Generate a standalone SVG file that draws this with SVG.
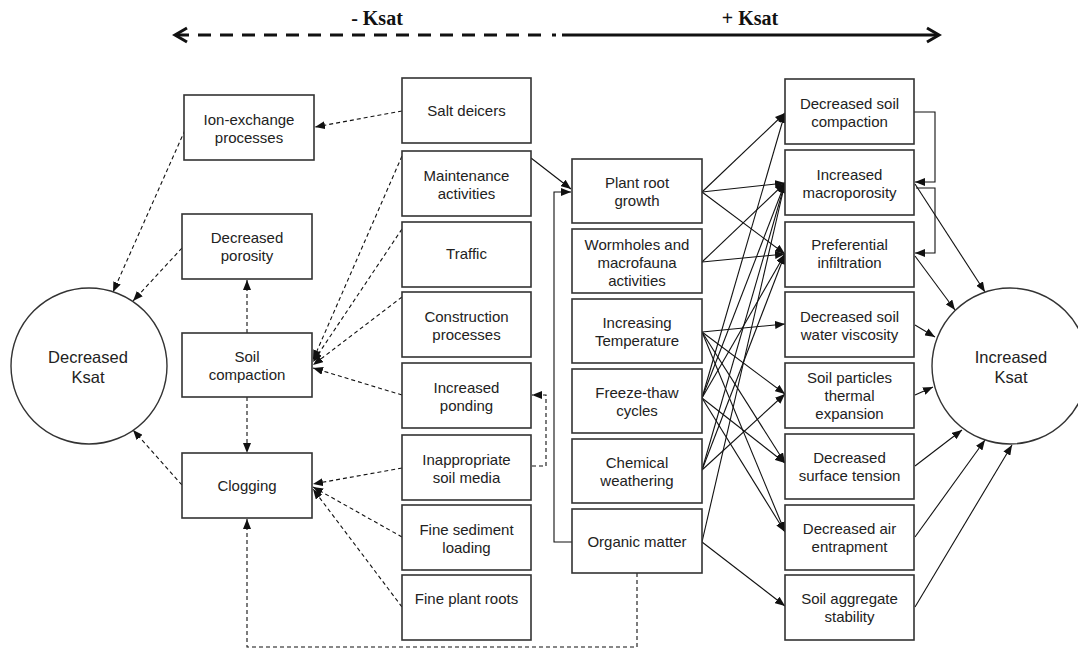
<svg xmlns="http://www.w3.org/2000/svg" width="1078" height="651" viewBox="0 0 1078 651">
<style>
.box{fill:#fff;stroke:#333;stroke-width:1.6}
.circ{fill:#fff;stroke:#333;stroke-width:1.4}
.t{font-family:"Liberation Sans",Arial,sans-serif;font-size:15px;fill:#222;text-anchor:middle}
.tc{font-family:"Liberation Sans",Arial,sans-serif;font-size:16.5px;fill:#222;text-anchor:middle}
.h{font-family:"Liberation Serif","Times New Roman",serif;font-size:20px;font-weight:bold;fill:#111;text-anchor:middle}
.s{fill:none;stroke:#111;stroke-width:1.1}
.d{fill:none;stroke:#111;stroke-width:1.1;stroke-dasharray:4,3}
</style>
<defs>
<marker id="ah" markerUnits="userSpaceOnUse" markerWidth="10" markerHeight="8" refX="10" refY="4" orient="auto" viewBox="0 0 10 8"><path d="M0,0 L10,4 L0,8 z" fill="#111"/></marker>
</defs>
<rect width="1078" height="651" fill="#fff"/>

<g id="header">
<text class="h" x="377" y="25">- Ksat</text>
<text class="h" x="750" y="25">+ Ksat</text>
<line x1="176" y1="35" x2="550" y2="35" stroke="#111" stroke-width="3" stroke-dasharray="13,9"/>
<line x1="552" y1="35" x2="556" y2="35" stroke="#111" stroke-width="3"/>
<line x1="562" y1="35" x2="938" y2="35" stroke="#111" stroke-width="3"/>
<polyline points="187,28 175,35 187,42" fill="none" stroke="#111" stroke-width="3"/>
<polyline points="927,28 939,35 927,42" fill="none" stroke="#111" stroke-width="3"/>
</g>

<g id="connectors">
<!-- left dashed -->
<line class="d" x1="402" y1="111" x2="315" y2="127" marker-end="url(#ah)"/>
<line class="d" x1="185" y1="130" x2="113" y2="292" marker-end="url(#ah)"/>
<line class="d" x1="182" y1="248" x2="133" y2="301" marker-end="url(#ah)"/>
<line class="d" x1="247" y1="333" x2="247" y2="280" marker-end="url(#ah)"/>
<line class="d" x1="247" y1="397" x2="247" y2="453" marker-end="url(#ah)"/>
<line class="d" x1="182" y1="485" x2="133" y2="430" marker-end="url(#ah)"/>
<line class="d" x1="402" y1="156" x2="313" y2="360" marker-end="url(#ah)"/>
<line class="d" x1="402" y1="229" x2="313" y2="362" marker-end="url(#ah)"/>
<line class="d" x1="402" y1="297" x2="313" y2="365" marker-end="url(#ah)"/>
<line class="d" x1="402" y1="395" x2="313" y2="368" marker-end="url(#ah)"/>
<line class="d" x1="402" y1="468" x2="313" y2="484" marker-end="url(#ah)"/>
<line class="d" x1="402" y1="537" x2="313" y2="487" marker-end="url(#ah)"/>
<line class="d" x1="402" y1="607" x2="313" y2="489" marker-end="url(#ah)"/>
<polyline class="d" points="532,466 546,466 546,395 532,395" marker-end="url(#ah)"/>
<polyline class="d" points="637,573 637,647 247,647 247,519" marker-end="url(#ah)"/>
<!-- solid into plant root growth -->
<line class="s" x1="531" y1="158" x2="571" y2="189" marker-end="url(#ah)"/>
<polyline class="s" points="572,542 554,542 554,192 571,192" marker-end="url(#ah)"/>
<!-- middle to right -->
<line class="s" x1="702" y1="192" x2="785" y2="113" marker-end="url(#ah)"/>
<line class="s" x1="702" y1="192" x2="785" y2="183" marker-end="url(#ah)"/>
<line class="s" x1="702" y1="192" x2="785" y2="254" marker-end="url(#ah)"/>
<line class="s" x1="702" y1="262" x2="785" y2="183" marker-end="url(#ah)"/>
<line class="s" x1="702" y1="262" x2="785" y2="254" marker-end="url(#ah)"/>
<line class="s" x1="702" y1="332" x2="785" y2="324" marker-end="url(#ah)"/>
<line class="s" x1="702" y1="332" x2="785" y2="394" marker-end="url(#ah)"/>
<line class="s" x1="702" y1="332" x2="785" y2="463" marker-end="url(#ah)"/>
<line class="s" x1="702" y1="332" x2="785" y2="532" marker-end="url(#ah)"/>
<line class="s" x1="702" y1="398" x2="785" y2="113" marker-end="url(#ah)"/>
<line class="s" x1="702" y1="398" x2="785" y2="183" marker-end="url(#ah)"/>
<line class="s" x1="702" y1="398" x2="785" y2="254" marker-end="url(#ah)"/>
<line class="s" x1="702" y1="398" x2="785" y2="463" marker-end="url(#ah)"/>
<line class="s" x1="702" y1="398" x2="785" y2="532" marker-end="url(#ah)"/>
<line class="s" x1="702" y1="470" x2="785" y2="183" marker-end="url(#ah)"/>
<line class="s" x1="702" y1="470" x2="785" y2="254" marker-end="url(#ah)"/>
<line class="s" x1="702" y1="470" x2="785" y2="394" marker-end="url(#ah)"/>
<line class="s" x1="702" y1="542" x2="785" y2="183" marker-end="url(#ah)"/>
<line class="s" x1="702" y1="542" x2="785" y2="606" marker-end="url(#ah)"/>
<!-- right elbows -->
<polyline class="s" points="914,112 935,112 935,182 915,182" marker-end="url(#ah)"/>
<polyline class="s" points="916,188 935,188 935,253 915,253" marker-end="url(#ah)"/>
<!-- right to circle -->
<line class="s" x1="915" y1="184" x2="985" y2="292" marker-end="url(#ah)"/>
<line class="s" x1="915" y1="256" x2="955" y2="310" marker-end="url(#ah)"/>
<line class="s" x1="915" y1="325" x2="935" y2="337" marker-end="url(#ah)"/>
<line class="s" x1="915" y1="395" x2="933" y2="387" marker-end="url(#ah)"/>
<line class="s" x1="915" y1="466" x2="962" y2="430" marker-end="url(#ah)"/>
<line class="s" x1="915" y1="537" x2="985" y2="440" marker-end="url(#ah)"/>
<line class="s" x1="915" y1="607" x2="1012" y2="445" marker-end="url(#ah)"/>
</g>

<g id="decreased-ksat"><circle class="circ" cx="89" cy="366" r="78"/><text class="tc" x="88" y="363">Decreased</text><text class="tc" x="88" y="383">Ksat</text></g>
<g id="increased-ksat"><circle class="circ" cx="1010" cy="366" r="78"/><text class="tc" x="1011" y="363">Increased</text><text class="tc" x="1011" y="383">Ksat</text></g>

<g id="ion-exchange"><rect class="box" x="184" y="95" width="130" height="65"/><text class="t" x="249" y="125">Ion-exchange</text><text class="t" x="249" y="143">processes</text></g>
<g id="decreased-porosity"><rect class="box" x="182" y="214" width="130" height="65"/><text class="t" x="247" y="243">Decreased</text><text class="t" x="247" y="261">porosity</text></g>
<g id="soil-compaction"><rect class="box" x="182" y="333" width="130" height="64"/><text class="t" x="247" y="362">Soil</text><text class="t" x="247" y="380">compaction</text></g>
<g id="clogging"><rect class="box" x="182" y="453" width="130" height="65"/><text class="t" x="247" y="491">Clogging</text></g>

<g id="salt-deicers"><rect class="box" x="402" y="78" width="129" height="65"/><text class="t" x="466.5" y="116">Salt deicers</text></g>
<g id="maintenance"><rect class="box" x="402" y="151" width="129" height="65"/><text class="t" x="466.5" y="181">Maintenance</text><text class="t" x="466.5" y="199">activities</text></g>
<g id="traffic"><rect class="box" x="402" y="222" width="129" height="65"/><text class="t" x="466.5" y="259">Traffic</text></g>
<g id="construction"><rect class="box" x="402" y="292" width="129" height="65"/><text class="t" x="466.5" y="322">Construction</text><text class="t" x="466.5" y="340">processes</text></g>
<g id="ponding"><rect class="box" x="402" y="363" width="129" height="65"/><text class="t" x="466.5" y="393">Increased</text><text class="t" x="466.5" y="411">ponding</text></g>
<g id="soil-media"><rect class="box" x="402" y="435" width="129" height="65"/><text class="t" x="466.5" y="465">Inappropriate</text><text class="t" x="466.5" y="483">soil media</text></g>
<g id="sediment"><rect class="box" x="402" y="505" width="129" height="65"/><text class="t" x="466.5" y="535">Fine sediment</text><text class="t" x="466.5" y="553">loading</text></g>
<g id="fine-roots"><rect class="box" x="402" y="575" width="129" height="65"/><text class="t" x="466.5" y="604">Fine plant roots</text></g>

<g id="plant-root"><rect class="box" x="572" y="159" width="130" height="64"/><text class="t" x="637" y="188">Plant root</text><text class="t" x="637" y="206">growth</text></g>
<g id="wormholes"><rect class="box" x="572" y="229" width="130" height="64"/><text class="t" x="637" y="250">Wormholes and</text><text class="t" x="637" y="268">macrofauna</text><text class="t" x="637" y="286">activities</text></g>
<g id="temperature"><rect class="box" x="572" y="299" width="130" height="64"/><text class="t" x="637" y="328">Increasing</text><text class="t" x="637" y="346">Temperature</text></g>
<g id="freeze-thaw"><rect class="box" x="572" y="369" width="130" height="64"/><text class="t" x="637" y="398">Freeze-thaw</text><text class="t" x="637" y="416">cycles</text></g>
<g id="chemical"><rect class="box" x="572" y="439" width="130" height="64"/><text class="t" x="637" y="468">Chemical</text><text class="t" x="637" y="486">weathering</text></g>
<g id="organic"><rect class="box" x="572" y="509" width="130" height="64"/><text class="t" x="637" y="547">Organic matter</text></g>

<g id="dec-soil-compaction"><rect class="box" x="785" y="79" width="129" height="65"/><text class="t" x="849.5" y="109">Decreased soil</text><text class="t" x="849.5" y="127">compaction</text></g>
<g id="macroporosity"><rect class="box" x="785" y="150" width="129" height="65"/><text class="t" x="849.5" y="180">Increased</text><text class="t" x="849.5" y="198">macroporosity</text></g>
<g id="preferential"><rect class="box" x="785" y="222" width="129" height="65"/><text class="t" x="849.5" y="250">Preferential</text><text class="t" x="849.5" y="268">infiltration</text></g>
<g id="viscosity"><rect class="box" x="785" y="292" width="129" height="65"/><text class="t" x="849.5" y="322">Decreased soil</text><text class="t" x="849.5" y="340">water viscosity</text></g>
<g id="thermal"><rect class="box" x="785" y="363" width="129" height="65"/><text class="t" x="849.5" y="383">Soil particles</text><text class="t" x="849.5" y="401">thermal</text><text class="t" x="849.5" y="419">expansion</text></g>
<g id="surface-tension"><rect class="box" x="785" y="434" width="129" height="65"/><text class="t" x="849.5" y="463">Decreased</text><text class="t" x="849.5" y="481">surface tension</text></g>
<g id="air-entrapment"><rect class="box" x="785" y="505" width="129" height="65"/><text class="t" x="849.5" y="534">Decreased air</text><text class="t" x="849.5" y="552">entrapment</text></g>
<g id="aggregate"><rect class="box" x="785" y="575" width="129" height="65"/><text class="t" x="849.5" y="604">Soil aggregate</text><text class="t" x="849.5" y="622">stability</text></g>
</svg>
